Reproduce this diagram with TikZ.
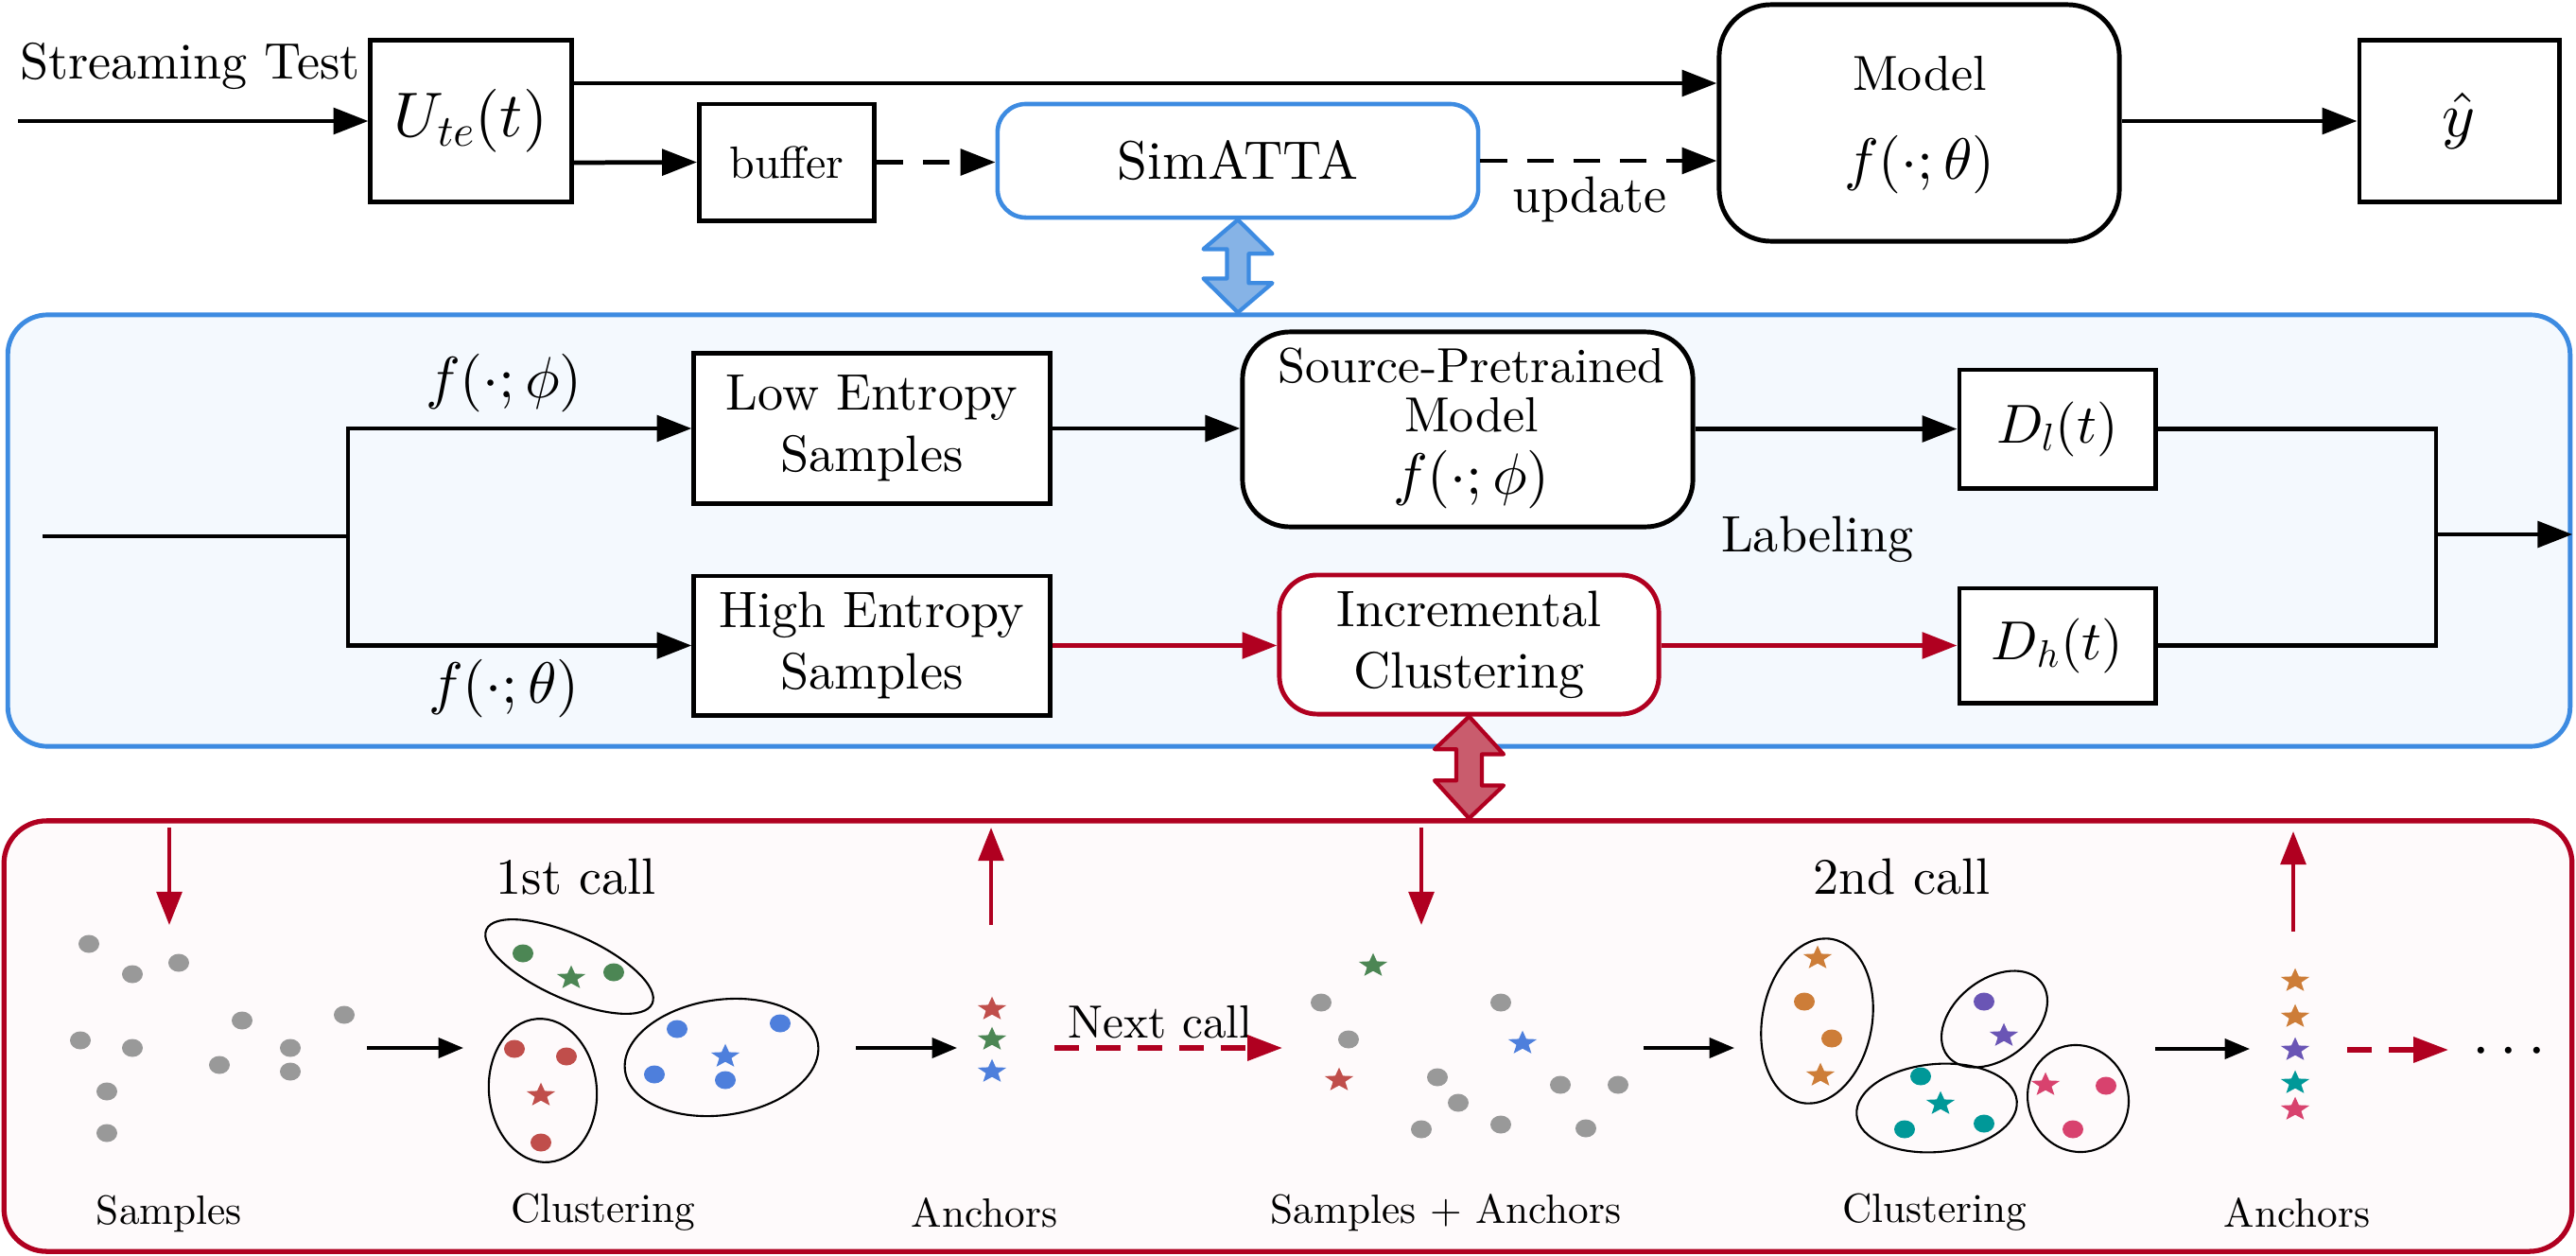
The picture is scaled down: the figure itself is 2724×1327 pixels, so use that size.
\documentclass[tikz,border=0pt]{standalone}
\usepackage[no-math]{fontspec}
\setmainfont{lmroman10-regular.otf}
\DeclareFontShape{OML}{cmm}{m}{it}{<->cmmi10}{}
\DeclareFontShape{OMS}{cmsy}{m}{n}{<->cmsy10}{}
\DeclareFontShape{OT1}{cmr}{m}{n}{<->cmr10}{}
\usetikzlibrary{arrows.meta,shapes.geometric,calc}
\definecolor{pblue}{RGB}{61,139,225}
\definecolor{pbluefill}{RGB}{244,249,254}
\definecolor{pbluearrow}{RGB}{134,179,230}
\definecolor{pred}{RGB}{176,0,32}
\definecolor{predfill}{RGB}{254,250,251}
\definecolor{predarrow}{RGB}{201,92,109}
\definecolor{dotgray}{RGB}{153,153,153}
\definecolor{cgreen}{RGB}{76,134,84}
\definecolor{cred}{RGB}{192,78,75}
\definecolor{cblue}{RGB}{78,127,220}
\definecolor{corange}{RGB}{205,125,56}
\definecolor{cpurple}{RGB}{106,85,181}
\definecolor{cteal}{RGB}{0,152,152}
\definecolor{cpink}{RGB}{216,66,110}
\newcommand{\fmain}{\fontsize{15.4}{18.5}\selectfont}
\newcommand{\fsp}{\fontsize{14.8}{17.5}\selectfont}
\newcommand{\fsim}{\fontsize{16.3}{19}\selectfont}
\newcommand{\fbuf}{\fontsize{13.6}{16}\selectfont}
\newcommand{\fmath}{\fontsize{17.5}{20}\selectfont}
\newcommand{\fmathl}{\fontsize{19}{22}\selectfont}
\newcommand{\fD}{\fontsize{16.5}{19}\selectfont}
\newcommand{\fsmall}{\fontsize{12.3}{15}\selectfont}
\newcommand{\fnext}{\fontsize{14}{17}\selectfont}
\begin{document}
\begin{tikzpicture}[x=0.01cm,y=-0.01cm,font=\fmain,
  bx/.style={draw, line width=1.4pt, inner sep=0pt, align=center},
  ln/.style={line width=1.35pt},
  arr/.style={line width=1.35pt, -{Triangle[length=10.5pt,width=7.8pt]}},
  darr/.style={arr, dash pattern=on 8pt off 6pt},
  rarr/.style={arr, color=pred},
  sarr/.style={line width=1pt, -{Triangle[length=7.5pt,width=6pt]}},
  varr/.style={line width=1.1pt, color=pred, -{Triangle[length=10pt,width=7.6pt]}},
  rdarr/.style={line width=1.5pt, color=pred, dash pattern=on 7.5pt off 5pt, -{Triangle[length=10.5pt,width=7.5pt]}},
  clus/.style={line width=0.6pt},
  pics/astar/.style={code={\fill[#1] (0,-13.3) -- (-4,-4.58) -- (-15.18,-4.11) -- (-6.46,1.75) -- (-9.38,10.76) -- (0,5.66) -- (9.38,10.76) -- (6.46,1.75) -- (15.18,-4.11) -- (4,-4.58) -- cycle;}}
]
\useasboundingbox (0,0) rectangle (2724,1327);

% ---------------- top row ----------------
\coordinate (inL) at (19,128);
\coordinate (ytop) at (0,88);
\coordinate (ybuf) at (0,172);
\node (stream) at (201,70) {Streaming Test};
\node[bx, minimum width=2.12cm, minimum height=1.70cm, font=\fmathl] (ute) at (498,128) {$U_{te}(t)$};
\node[bx, minimum width=1.85cm, minimum height=1.23cm, font=\fbuf] (buf) at (832,171.5) {buffer};
\node[bx, draw=pblue, line width=1.3pt, rounded corners=0.3cm, minimum width=5.08cm, minimum height=1.20cm, font=\fsim] (sim) at (1309,170) {SimATTA};
\node[bx, rounded corners=0.55cm, minimum width=4.23cm, minimum height=2.50cm] (model) at (2029.5,130) {};
\node[font=\fsp] (modeltxt) at (2030,78) {Model};
\node[font=\fmath] (modelf) at (2030,174) {$f(\cdot;\theta)$};
\node[bx, minimum width=2.11cm, minimum height=1.70cm, font=\fmathl] (yhat) at (2600.5,128) {$\hat{y}$};

\draw[arr] (inL) -- (ute.west);
\draw[arr] (ute.east |- ytop) -- (model.west |- ytop);
\draw[arr] (ute.east |- ybuf) -- (buf.west);
\draw[darr] (buf.east) -- (sim.west |- buf.east);
\draw[darr] (sim.east) -- (model.west |- sim.east);
\node (upd) at (1681,211) {update};
\draw[arr] (model.east |- yhat.west) -- (yhat.west);

% ---------------- blue panel ----------------
\node[draw=pblue, fill=pbluefill, line width=1.4pt, rounded corners=0.42cm, minimum width=27.08cm, minimum height=4.56cm, inner sep=0pt] (bpanel) at (1363,561) {};

\draw[draw=pblue, fill=pbluearrow, line width=1.2pt, line join=round]
  (sim.south) -- ++(36.5,36) -- ++(-25,0) -- ++(0,31) -- ++(25,0)
  -- (sim.south |- bpanel.north) -- ++(-36.5,-36) -- ++(25,0) -- ++(0,-31) -- ++(-25,0) -- cycle;

\coordinate (bin) at (45,567);
\coordinate (split) at (368,567);
\coordinate (mrg) at (2576,565);
\node[bx, fill=white, minimum width=3.76cm, minimum height=1.58cm] (low) at (922,453) {Low Entropy\\Samples};
\node[bx, fill=white, minimum width=3.76cm, minimum height=1.47cm] (high) at (922,682.5) {High Entropy\\Samples};
\node[font=\fmath] (fphi) at (533,405) {$f(\cdot;\phi)$};
\node[font=\fmath] (ftheta) at (533,728) {$f(\cdot;\theta)$};
\node[bx, fill=white, rounded corners=0.5cm, minimum width=4.76cm, minimum height=2.06cm] (sp) at (1552,454) {};
\node[font=\fsp, inner sep=0pt, align=center] (sptxt) at (1556,453) {Source-Pretrained\\[-2.7pt]Model\\[1.3pt]{\fmath $f(\cdot;\phi)$}};
\node[bx, fill=white, draw=pred, rounded corners=0.4cm, minimum width=4.01cm, minimum height=1.47cm] (ic) at (1553.5,681.5) {Incremental\\Clustering};
\node[bx, fill=white, minimum width=2.07cm, minimum height=1.25cm, font=\fD] (dl) at (2175.5,453.5) {$D_l(t)$};
\node[bx, fill=white, minimum width=2.07cm, minimum height=1.21cm, font=\fD] (dh) at (2175.5,682.5) {$D_h(t)$};
\node (lab) at (1922,570) {Labeling};

\draw[ln] (bin) -- (split);
\draw[arr] (split) |- (low.west);
\draw[arr] (split) |- (high.west);
\draw[arr] (low.east) -- (sp.west |- low.east);
\draw[rarr] (high.east) -- (ic.west |- high.east);
\draw[arr] (sp.east |- dl.west) -- (dl.west);
\draw[rarr] (ic.east |- dh.west) -- (dh.west);
\draw[ln] (dl.east) -- (dl.east -| mrg) -- (dh.east -| mrg) -- (dh.east);
\draw[arr] (mrg) -- (bpanel.east |- mrg);

% ---------------- red panel ----------------
\node[draw=pred, fill=predfill, line width=1.5pt, rounded corners=0.45cm, minimum width=27.14cm, minimum height=4.55cm, inner sep=0pt] (rpanel) at (1362,1095.5) {};

\draw[draw=pred, fill=predarrow, line width=1.2pt, line join=round]
  (ic.south) -- ++(36.5,40) -- ++(-23,0) -- ++(0,33) -- ++(23,0)
  -- (ic.south |- rpanel.north) -- ++(-36.5,-40) -- ++(23,0) -- ++(0,-33) -- ++(-23,0) -- cycle;

% labels
\node[font=\fsmall] (lsamp) at (179,1283) {Samples};
\node[font=\fsmall] (lclus1) at (638,1282) {Clustering};
\node[font=\fsmall] (lanch1) at (1041,1282) {Anchors};
\node[font=\fsmall] (lsa) at (1529,1282) {Samples + Anchors};
\node[font=\fsmall] (lclus2) at (2046,1282) {Clustering};
\node[font=\fsmall] (lanch2) at (2429,1282) {Anchors};
\node (call1) at (609,927) {1st call};
\node (call2) at (2011,927) {2nd call};
\node[font=\fnext] (next) at (1227,1081) {Next call};
\node[font=\fmathl, anchor=base] (dots) at (2653,1127) {$\cdots$};

% vertical red arrows
\coordinate (v1a) at (179,875);  \coordinate (v1b) at (179,978);
\coordinate (v2a) at (1048,978); \coordinate (v2b) at (1048,875);
\coordinate (v3a) at (1503,875); \coordinate (v3b) at (1503,978);
\coordinate (v4a) at (2425,985); \coordinate (v4b) at (2425,879);
\draw[varr] (v1a) -- (v1b);
\draw[varr] (v2a) -- (v2b);
\draw[varr] (v3a) -- (v3b);
\draw[varr] (v4a) -- (v4b);

% black small arrows
\coordinate (b1a) at (388,1108);  \coordinate (b1b) at (490,1108);
\coordinate (b2a) at (905,1108);  \coordinate (b2b) at (1012,1108);
\coordinate (b3a) at (1738,1108); \coordinate (b3b) at (1834,1108);
\coordinate (b4a) at (2279,1109); \coordinate (b4b) at (2379,1109);
\draw[sarr] (b1a) -- (b1b);
\draw[sarr] (b2a) -- (b2b);
\draw[sarr] (b3a) -- (b3b);
\draw[sarr] (b4a) -- (b4b);

% red dashed arrows
\coordinate (r1a) at (1115,1108); \coordinate (r1b) at (1356,1108);
\coordinate (r2a) at (2482,1110); \coordinate (r2b) at (2589,1110);
\draw[rdarr] (r1a) -- (r1b);
\draw[rdarr] (r2a) -- (r2b);

% samples
\foreach \x/\y in {94/998, 140/1030, 189/1018, 256/1079, 364/1073, 85/1100, 140/1108, 307/1108, 232/1126, 307/1133, 113/1154, 113/1198}
  \fill[dotgray] (\x,\y) ellipse [x radius=11, y radius=9.5];

% first clustering
\draw[clus, rotate around={-24:(602,1022)}] (602,1022) ellipse [x radius=96, y radius=34];
\draw[clus, rotate around={5:(574,1153)}] (574,1153) ellipse [x radius=57, y radius=76];
\draw[clus, rotate around={8:(763,1118)}] (763,1118) ellipse [x radius=103, y radius=61];
\foreach \x/\y in {553/1008, 649/1028} \fill[cgreen] (\x,\y) ellipse [x radius=11, y radius=9.5];
\foreach \x/\y in {544/1109, 599/1117, 572/1208} \fill[cred] (\x,\y) ellipse [x radius=11, y radius=9.5];
\foreach \x/\y in {716/1088, 825/1082, 692/1136, 767/1142} \fill[cblue] (\x,\y) ellipse [x radius=11, y radius=9.5];
\pic at (604,1034) {astar=cgreen};
\pic at (572,1158) {astar=cred};
\pic at (767,1117) {astar=cblue};

% anchors 1
\pic at (1049,1067) {astar=cred};
\pic at (1049,1099) {astar=cgreen};
\pic at (1049,1133) {astar=cblue};

% samples + anchors
\foreach \x/\y in {1397/1060, 1587/1060, 1426/1099, 1520/1139, 1542/1166, 1650/1147, 1711/1147, 1503/1194, 1587/1189, 1677/1193}
  \fill[dotgray] (\x,\y) ellipse [x radius=11, y radius=9.5];
\pic at (1452,1021) {astar=cgreen};
\pic at (1610,1103) {astar=cblue};
\pic at (1416,1142) {astar=cred};

% second clustering
\draw[clus, rotate around={-10.5:(1921.5,1079.5)}] (1921.5,1079.5) ellipse [x radius=58, y radius=88];
\draw[clus, rotate around={38:(2109,1077.5)}] (2109,1077.5) ellipse [x radius=63, y radius=42];
\draw[clus, rotate around={5:(2048,1171.5)}] (2048,1171.5) ellipse [x radius=85, y radius=46.5];
\draw[clus, rotate around={20:(2197.5,1161.5)}] (2197.5,1161.5) ellipse [x radius=53, y radius=57];
\foreach \x/\y in {1908/1059, 1937/1098} \fill[corange] (\x,\y) ellipse [x radius=11, y radius=9.5];
\fill[cpurple] (2098,1059) ellipse [x radius=11, y radius=9.5];
\foreach \x/\y in {2031/1138, 2014/1194, 2098/1188} \fill[cteal] (\x,\y) ellipse [x radius=11, y radius=9.5];
\foreach \x/\y in {2227/1148, 2192/1194} \fill[cpink] (\x,\y) ellipse [x radius=11, y radius=9.5];
\pic at (1922,1013) {astar=corange};
\pic at (1925,1137) {astar=corange};
\pic at (2119,1095) {astar=cpurple};
\pic at (2052,1167) {astar=cteal};
\pic at (2163,1147) {astar=cpink};

% anchors 2
\pic at (2427,1037) {astar=corange};
\pic at (2427,1075) {astar=corange};
\pic at (2427,1110) {astar=cpurple};
\pic at (2427,1145) {astar=cteal};
\pic at (2427,1173) {astar=cpink};
\end{tikzpicture}
\end{document}
